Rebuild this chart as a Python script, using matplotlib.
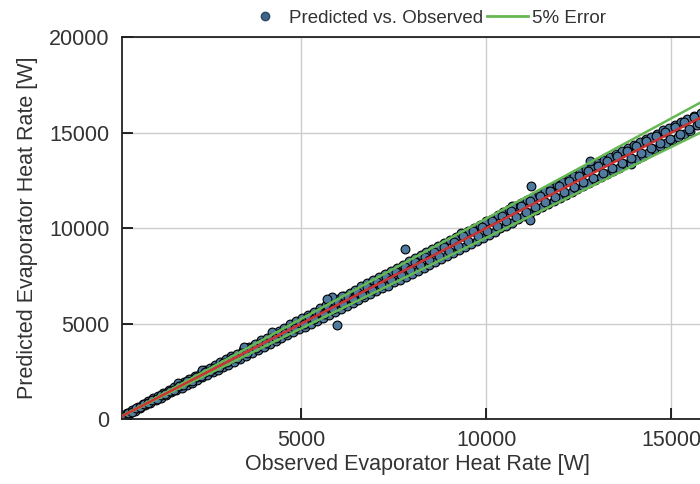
import matplotlib
matplotlib.use("Agg")
import matplotlib.pyplot as plt
from matplotlib.lines import Line2D

plt.rcParams["font.family"] = ["Liberation Sans", "DejaVu Sans"]

# ─── Dados ───────────────────────────────────────────────────────────────────

# bordas da faixa de pontos
observed = [
    150, 220, 290, 360, 430, 500, 570, 640, 710, 780, 850, 920, 990, 1060,
    1130, 1200, 1270, 1340, 1410, 1480, 1550, 1620, 1690, 1760, 1830, 1900,
    1970, 2040, 2110, 2180, 2250, 2320, 2390, 2460, 2530, 2600, 2670, 2740,
    2810, 2880, 2950, 3020,
    3100, 3180, 3260, 3340, 3420, 3500, 3580, 3660, 3740, 3820, 3900, 3980,
    4060, 4140, 4220, 4300, 4380, 4460, 4540, 4620, 4700, 4780, 4860, 4940,
    5020, 5100, 5180, 5260, 5340, 5420, 5500, 5580, 5660, 5740, 5820, 5900,
    5980, 6060, 6140, 6220, 6300, 6380, 6460, 6540, 6620, 6700, 6780, 6860,
    6940, 7020, 7100, 7180, 7260, 7340, 7420, 7500, 7580, 7660, 7740, 7820,
    7900, 7980, 8060, 8140, 8220, 8300, 8380, 8460, 8540, 8620, 8700, 8780,
    8860, 8940, 9020, 9100, 9180, 9260, 9340, 9420, 9500, 9580, 9660, 9740,
    9820, 9900, 9980, 10060, 10140, 10220, 10300, 10380, 10460, 10540, 10620,
    10700, 10780, 10860, 10940, 11020, 11100, 11180, 11260, 11340, 11420,
    11500, 11580, 11660, 11740, 11820, 11900, 11980, 12060, 12140, 12220,
    12300, 12380, 12460, 12540, 12620, 12700, 12780, 12860, 12940, 13020,
    13100, 13180, 13260, 13340, 13420, 13500, 13580, 13660, 13740, 13820,
    13900, 13980, 14060, 14140, 14220, 14300, 14380, 14460, 14540, 14620,
    14700, 14780, 14860, 14940, 15020, 15100, 15180, 15260, 15340, 15420,
    15500, 15600, 15700, 15800, 15900,
    # pontos fora da faixa
    7800, 5815, 5950, 11200, 12800, 11170, 6100, 5700, 15870, 1650, 2300,
    3450, 4200, 9300, 10700, 13900,
]

predicted = [
    200, 160, 340, 300, 480, 440, 630, 580, 780, 720, 930, 860, 1080, 980,
    1210, 1110, 1380, 1250, 1500, 1390, 1680, 1520, 1790, 1640, 1960, 1790,
    2090, 1910, 2260, 2050, 2380, 2180, 2550, 2320, 2680, 2440, 2840, 2580,
    2980, 2710, 3120, 2850,
    3290, 3000, 3420, 3160, 3620, 3310, 3770, 3460, 3950, 3620, 4120, 3770,
    4260, 3930, 4440, 4080, 4600, 4230, 4770, 4380, 4960, 4540, 5110, 4690,
    5290, 4840, 5460, 4990, 5620, 5150, 5790, 5300, 5960, 5450, 6110, 5610,
    6290, 5760, 6450, 5910, 6610, 6070, 6780, 6220, 6950, 6370, 7100, 6530,
    7280, 6680, 7430, 6840, 7600, 6990, 7770, 7150, 7920, 7300, 8090, 7460,
    8250, 7610, 8410, 7770, 8570, 7930, 8740, 8080, 8900, 8240, 9070, 8400,
    9230, 8550, 9390, 8710, 9540, 8870, 9700, 9020, 9860, 9180, 10020, 9340,
    10180, 9490, 10350, 9660, 10500, 9810, 10660, 9980, 10830, 10130, 10980,
    10290, 11150, 10450, 11300, 10610, 11470, 10770, 11620, 10930, 11790,
    11090, 11940, 11250, 12110, 11420, 12270, 11580, 12420, 11740, 12590,
    11900, 12740, 12050, 12910, 12220, 13070, 12370, 13230, 12530, 13390,
    12690, 13550, 12850, 13700, 13010, 13860, 13170, 14020, 13330, 14180,
    13480, 14340, 13640, 14500, 13790, 14640, 13950, 14790, 14120, 14950,
    14280, 15110, 14440, 15260, 14600, 15420, 14760, 15570, 14910, 15720,
    15080, 15850, 15410, 16000, 15590,
    8900, 6390, 4920, 12200, 13500, 10420, 6450, 6300, 15500, 1900, 2560,
    3760, 4540, 9750, 11180, 13350,
]

# pontos no centro da faixa
mid_observed = [
    300, 410, 520, 630, 740, 860, 970, 1090, 1200, 1320, 1440, 1560, 1680,
    1800, 1920, 2040, 2160, 2280, 2400, 2520, 2640, 2760, 2880, 3000, 3130,
    3260, 3390, 3520, 3650, 3780, 3910, 4040, 4170, 4300, 4430, 4560, 4690,
    4820, 4950, 5080, 5210, 5340, 5470, 5600, 5730, 5860, 5990, 6120, 6250,
    6380, 6510, 6640, 6770, 6900, 7030, 7160, 7290, 7420, 7550, 7680, 7810,
    7940, 8070, 8200, 8330, 8460, 8590, 8720, 8850, 8980, 9110, 9240, 9370,
    9500, 9630, 9760, 9890, 10020, 10150, 10280, 10410, 10540, 10670, 10800,
    10930, 11060, 11190, 11320, 11450, 11580, 11710, 11840, 11970, 12100,
    12230, 12360, 12490, 12620, 12750, 12880, 13010, 13140, 13270, 13400,
    13530, 13660, 13790, 13920, 14050, 14180, 14310, 14440, 14570, 14700,
    14830, 14960, 15090, 15220, 15350, 15480, 15610, 15740,
]

mid_predicted = [
    330, 390, 560, 610, 770, 840, 1010, 1060, 1240, 1290, 1480, 1530, 1720,
    1770, 1970, 2010, 2200, 2250, 2450, 2490, 2690, 2720, 2930, 2960, 3190,
    3210, 3450, 3470, 3720, 3730, 3980, 3980, 4250, 4240, 4520, 4490, 4780,
    4750, 5050, 5000, 5320, 5250, 5590, 5500, 5850, 5760, 6120, 6010, 6380,
    6260, 6650, 6520, 6910, 6770, 7170, 7030, 7440, 7290, 7710, 7540, 7970,
    7790, 8240, 8050, 8500, 8310, 8770, 8560, 9030, 8810, 9290, 9070, 9560,
    9330, 9820, 9580, 10080, 9840, 10350, 10090, 10610, 10350, 10880, 10600,
    11140, 10860, 11400, 11110, 11660, 11370, 11930, 11620, 12190, 11880,
    12450, 12130, 12720, 12390, 12980, 12640, 13250, 12900, 13510, 13150,
    13770, 13410, 14030, 13660, 14290, 13920, 14550, 14170, 14800, 14430,
    15050, 14690, 15310, 14950, 15560, 15200, 15800, 15480,
]

# linha de ajuste e limites de ±5 %
fit_x = [0, 20000]
fit_y = [0, 20000]
upper_y = [0, 21000]
lower_y = [0, 19000]

x_ticks = [5000, 10000, 15000]
y_ticks = [0, 5000, 10000, 15000, 20000]

# ─── Figura ──────────────────────────────────────────────────────────────────

fig = plt.figure(figsize=(7.0, 4.84), dpi=100)
ax = fig.add_axes([0.1743, 0.1343, 0.843, 0.789])

ax.scatter(observed + mid_observed, predicted + mid_predicted, s=40,
           color="#4f7ba0", edgecolor="black", linewidth=0.8, zorder=2)
ax.plot(fit_x, upper_y, color="#66b855", linewidth=1.8, zorder=3)
ax.plot(fit_x, lower_y, color="#66b855", linewidth=1.8, zorder=3)
ax.plot(fit_x, fit_y, color="#cc3333", linewidth=1.8, zorder=4)

ax.set_xlim(150, 16100)
ax.set_ylim(0, 20000)
ax.set_xticks(x_ticks)
ax.set_yticks(y_ticks)
ax.tick_params(direction="in", length=8, width=1.2, labelsize=15.5,
               colors="black", labelcolor="#333333")
ax.tick_params(axis="y", pad=9)
ax.tick_params(axis="x", pad=8)
ax.grid(True, color="#cccccc", linewidth=1.0, zorder=0)
ax.set_axisbelow(True)
for sp in ax.spines.values():
    sp.set_linewidth(1.3)
    sp.set_color("#222222")

ax.set_xlabel("Observed Evaporator Heat Rate [W]", fontsize=15.5,
              color="#333333", labelpad=2)
ax.set_ylabel("Predicted Evaporator Heat Rate [W]", fontsize=15.5,
              color="#333333", labelpad=8)

handles = [
    Line2D([], [], marker="o", linestyle="none", markersize=6,
           markerfacecolor="#3f6485", markeredgecolor="#2b4a66"),
    Line2D([], [], color="#66b855", linewidth=2),
]
fig.legend(handles, ["Predicted vs. Observed", "5% Error"], ncol=2,
           loc="center", bbox_to_anchor=(0.607, 0.962), frameon=False,
           fontsize=13.5, handlelength=2.2, handletextpad=0.2,
           columnspacing=0.2, labelcolor="#333333")

fig.savefig("out.png", dpi=100)
